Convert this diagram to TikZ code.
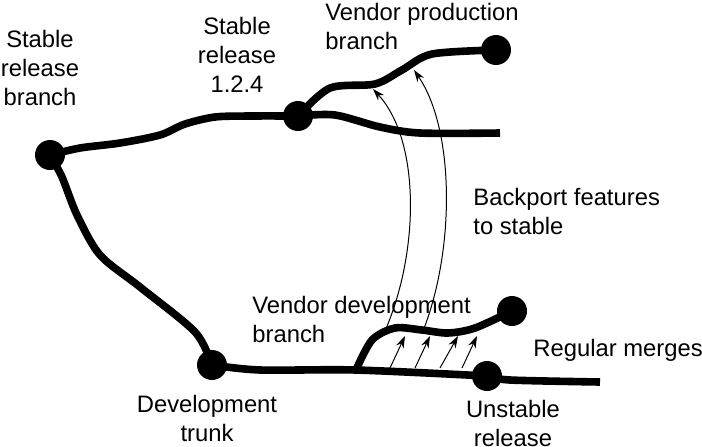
\documentclass[tikz,border=0pt]{standalone}
\usepackage{fontspec}
\setmainfont{Liberation Sans}
\usetikzlibrary{arrows.meta}
\begin{document}
\begin{tikzpicture}[x=0.5pt, y=-0.5pt, >={Stealth[length=6pt,width=4pt]}]
\useasboundingbox (0,0) rectangle (702,446);
   \begin{scope}[every node/.style={font=\fontsize{11.9}{14.5}\selectfont, align=center, inner sep=0pt}]
\coordinate(sb) at (50,155);
\coordinate(sr) at (298,116);
\coordinate(vp) at (496,50);
\coordinate(se) at (500,133);
\coordinate(dt) at (212,365);
\coordinate(vd) at (512,311);
\coordinate(vs) at (356,370);
\coordinate(ur) at (487,376);
\coordinate(ue) at (600,382);
% branches
\begin{scope}[line width=3.8pt]
\draw plot[smooth, tension=0.5] coordinates {(sb) (80,148) (120,143) (160,135) (185,124) (215,117) (250,116) (sr)};
\draw plot[smooth, tension=0.5] coordinates {(sr) (330,88) (375,84) (402,70) (432,54) (vp)};
\draw plot[smooth, tension=0.5] coordinates {(sr) (335,115) (380,127) (420,133) (se)};
\draw plot[smooth, tension=0.5] coordinates {(sb) (62,177) (77,215) (100,255) (140,287) (195,332) (dt)};
\draw plot[smooth, tension=0.5] coordinates {(dt) (260,370) (vs) (ur)};
\draw plot[smooth, tension=0.5] coordinates {(ur) (510,380) (ue)};
\draw plot[smooth, tension=0.5] coordinates {(vs) (372,340) (395,328) (422,330) (448,333) (475,328) (vd)};
\end{scope}
% backports
\draw[->, line width=0.5pt] (385,331) .. controls (420,250) and (420,140) .. (373,89);
\draw[->, line width=0.5pt] (423,331) .. controls (455,250) and (455,130) .. (414,70);
\foreach \s/\e in {390/405, 415/430, 440/458, 462/477}
       \draw[->, line width=0.5pt] (\s,368) -- (\e,336);
\foreach \p in {sb,sr,vp,dt,vd,ur}
       \fill [black] (\p) circle (7.5pt);
\node (sbl) at (40,68) {Stable\\release\\branch};
\node (srl) at (237,55) {Stable\\release\\1.2.4};
\node[anchor=west, align=left] (vpl) at (325,26) {Vendor production\\branch};
\node[anchor=west, align=left] (bfl) at (473,211) {Backport features\\to stable};
\node[anchor=west, align=left] (vdl) at (252,319) {Vendor development\\branch};
\node[anchor=west] (rml) at (533,350) {Regular merges};
\node (dtl) at (207,418) {Development\\trunk};
\node (url) at (513,423) {Unstable\\release};
  \end{scope}
\end{tikzpicture}
\end{document}
